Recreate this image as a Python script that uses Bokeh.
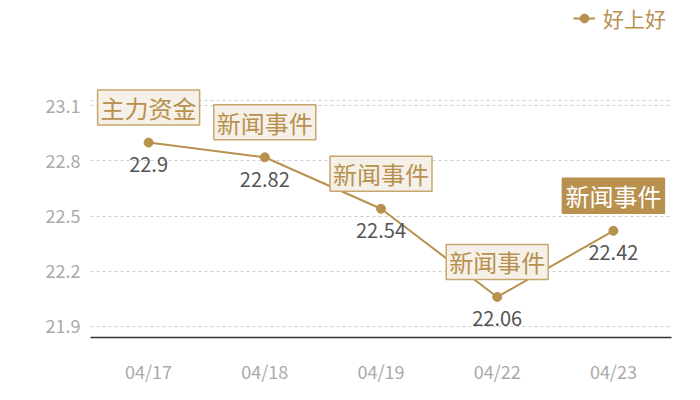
from bokeh.plotting import figure
from bokeh.models import (Range1d, FixedTicker, Label, LabelSet, ColumnDataSource,
                          Legend, LegendItem, Span)
from bokeh.core.properties import value
from bokeh.embed import file_html
from bokeh.resources import INLINE

dates = ["04/17", "04/18", "04/19", "04/22", "04/23"]
prices = [22.9, 22.82, 22.54, 22.06, 22.42]
events = ["主力资金", "新闻事件", "新闻事件", "新闻事件", "新闻事件"]
highlight = [False, False, False, False, True]
y_ticks = [21.9, 22.2, 22.5, 22.8, 23.1]
series_name = "好上好"

FONT = "Noto Sans CJK SC"
GOLD = "#b8914f"

xs = list(range(len(dates)))
y_min = min(prices) * 0.99
y_max = max(prices) * 1.01

# axis extent 237px tall (bottom at 337px); the frame reaches the top of the canvas
# so that annotation boxes and the legend above the axis area are not clipped
AXIS_PX = 237.0
FRAME_PX = 337.0
y_end = y_min + (y_max - y_min) * FRAME_PX / AXIS_PX

p = figure(width=700, height=400, output_backend="svg", toolbar_location=None,
           x_range=Range1d(-0.5, len(dates) - 0.5), y_range=Range1d(y_min, y_end),
           min_border_left=90, min_border_right=29, min_border_top=0, min_border_bottom=63)
p.outline_line_color = None
p.background_fill_color = "white"
p.border_fill_color = "white"

# axes
p.xaxis.ticker = FixedTicker(ticks=xs)
p.xaxis.major_label_overrides = {i: d for i, d in enumerate(dates)}
p.xaxis.axis_line_color = "#333333"
p.xaxis.axis_line_width = 1.5
p.xaxis.major_tick_line_color = None
p.xaxis.minor_tick_line_color = None
p.xaxis.major_label_text_color = "#aaaaaa"
p.xaxis.major_label_text_font = FONT
p.xaxis.major_label_text_font_size = "18px"
p.xaxis.major_label_standoff = 14

p.yaxis.ticker = FixedTicker(ticks=y_ticks)
p.yaxis.axis_line_color = None
p.yaxis.major_tick_line_color = None
p.yaxis.minor_tick_line_color = None
p.yaxis.major_label_text_color = "#aaaaaa"
p.yaxis.major_label_text_font = FONT
p.yaxis.major_label_text_font_size = "18px"
p.yaxis.major_label_standoff = 4

p.xgrid.grid_line_color = None
p.ygrid.grid_line_color = "#cccccc"
p.ygrid.grid_line_dash = "3 3"
p.ygrid.grid_line_width = 1

p.add_layout(Span(location=y_max, dimension="width", line_color="#cccccc",
                  line_dash="3 3", line_width=1))

src = ColumnDataSource(dict(x=xs, y=prices, lbl=[str(v) for v in prices]))
line_r = p.line("x", "y", source=src, line_color=GOLD, line_width=2)
dot_r = p.scatter("x", "y", source=src, size=9, fill_color=GOLD, line_color=GOLD)

p.add_layout(LabelSet(x="x", y="y", text="lbl", source=src, y_offset=-22,
                      text_align="center", text_baseline="middle",
                      text_font=value(FONT), text_font_size="20px", text_color="#555555"))

for i, (ev, hl) in enumerate(zip(events, highlight)):
    p.add_layout(Label(x=xs[i], y=prices[i], y_offset=35, text=ev,
                       text_align="center", text_baseline="middle",
                       text_font=FONT, text_font_size="24px", text_line_height=1.0,
                       text_color="white" if hl else GOLD,
                       background_fill_color=GOLD if hl else "#f5f0e8",
                       border_line_color=GOLD if hl else "#c9a66e",
                       border_line_width=1.5, padding=(3, 0)))

legend = Legend(items=[LegendItem(label=series_name, renderers=[line_r, dot_r])],
                location=(483, 304), padding=0, margin=0, border_line_color=None,
                background_fill_alpha=0, label_text_font=FONT,
                label_text_font_size="21px", label_text_color=GOLD,
                glyph_width=22, glyph_height=22, label_standoff=8)
p.add_layout(legend, "center")

open("out.html", "w").write(file_html(p, INLINE))
